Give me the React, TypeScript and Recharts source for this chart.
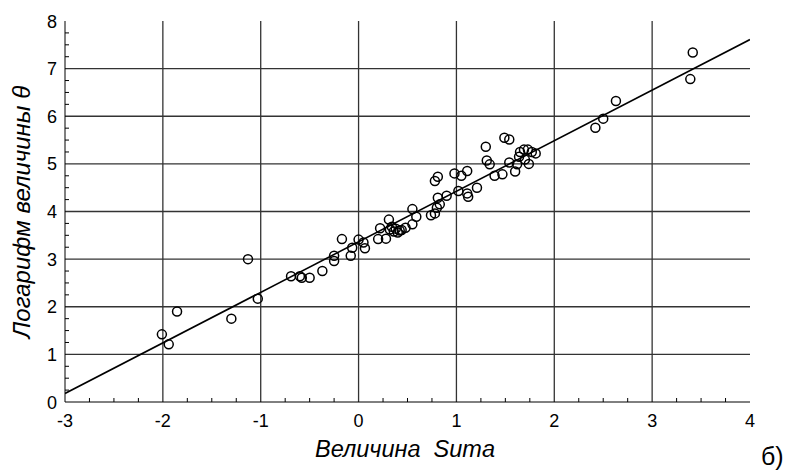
import React from 'react';
import { ScatterChart, Scatter, XAxis, YAxis, ReferenceLine } from 'recharts';

// observed points: Suma vs ln(theta)
const sumaValues = [
  -2.01, -1.94, -1.855, -1.3, -1.13, -1.03, -0.69, -0.6, -0.58, -0.5,
  -0.37, -0.25, -0.25, -0.17, -0.08, -0.065, 0.0, 0.05, 0.065, 0.2,
  0.22, 0.28, 0.31, 0.32, 0.34, 0.36, 0.38, 0.4, 0.42, 0.44,
  0.48, 0.55, 0.55, 0.59, 0.74, 0.78, 0.8, 0.83, 0.81, 0.78,
  0.81, 0.9, 0.98, 1.02, 1.05, 1.11, 1.11, 1.12, 1.21, 1.3,
  1.31, 1.34, 1.39, 1.47, 1.49, 1.54, 1.54, 1.6, 1.62, 1.64,
  1.65, 1.69, 1.73, 1.7, 1.74, 1.77, 1.81, 2.42, 2.5, 2.63,
  3.39, 3.415,
];
const logTheta = [
  1.42, 1.21, 1.9, 1.75, 3.0, 2.17, 2.64, 2.64, 2.61, 2.61,
  2.75, 2.96, 3.07, 3.42, 3.07, 3.24, 3.41, 3.35, 3.23, 3.42,
  3.65, 3.43, 3.83, 3.62, 3.68, 3.58, 3.64, 3.56, 3.6, 3.61,
  3.66, 3.73, 4.05, 3.89, 3.92, 3.96, 4.08, 4.15, 4.29, 4.64,
  4.73, 4.33, 4.8, 4.43, 4.75, 4.85, 4.38, 4.31, 4.5, 5.36,
  5.07, 4.99, 4.75, 4.78, 5.55, 5.51, 5.03, 4.84, 4.99, 5.15,
  5.25, 5.3, 5.3, 5.09, 5.0, 5.25, 5.22, 5.76, 5.95, 6.32,
  6.78, 7.34,
];

// fitted line endpoints
const fitX = [-3, 4];
const fitY = [0.18, 7.61];

const xMajor = [-3, -2, -1, 0, 1, 2, 3, 4];
const yMajor = [0, 1, 2, 3, 4, 5, 6, 7, 8];

const quarters = (lo: number, hi: number) => {
  const out: number[] = [];
  for (let v = lo; v <= hi + 1e-9; v += 0.25) out.push(Math.round(v * 100) / 100);
  return out;
};
const xTicks = quarters(-3, 4);
const yTicks = quarters(0, 8);

const points = sumaValues.map((x, i) => ({ x, y: logTheta[i] }));
const fitLine = fitX.map((x, i) => ({ x, y: fitY[i] }));

const FONT = '"Liberation Sans", Arial, sans-serif';
const GRID = '#333';
const isMajor = (v: number) => Number.isInteger(v);

const BottomTick = ({ x, y, payload }: any) => (
  <g>
    {!isMajor(payload.value) && <line x1={x} y1={y} x2={x} y2={y - 4} stroke="#000" />}
    {isMajor(payload.value) && (
      <text x={x} y={y + 25} textAnchor="middle" fontSize={18} fontFamily={FONT} fill="#000">
        {payload.value}
      </text>
    )}
  </g>
);

const TopTick = ({ x, y, payload }: any) =>
  isMajor(payload.value) ? <g /> : <line x1={x} y1={y} x2={x} y2={y + 4} stroke="#000" />;

const LeftTick = ({ x, y, payload }: any) => (
  <g>
    {!isMajor(payload.value) && <line x1={x} y1={y} x2={x + 4} y2={y} stroke="#000" />}
    {isMajor(payload.value) && (
      <text x={x - 8} y={y + 6.5} textAnchor="end" fontSize={18} fontFamily={FONT} fill="#000">
        {payload.value}
      </text>
    )}
  </g>
);

const RightTick = ({ x, y, payload }: any) =>
  isMajor(payload.value) ? <g /> : <line x1={x} y1={y} x2={x - 4} y2={y} stroke="#000" />;

const Ring = ({ cx, cy }: any) => (
  <circle cx={cx} cy={cy} r={4.5} fill="none" stroke="#000" strokeWidth={1.5} />
);

export default function App() {
  return (
    <div style={{ position: 'absolute', left: 0, top: 0, width: 788, height: 472, background: '#fff', fontFamily: FONT }}>
      <ScatterChart width={788} height={472} margin={{ top: 21, right: 38, bottom: 0, left: 0 }}>
        <XAxis
          xAxisId="b" dataKey="x" type="number" domain={[-3, 4]} ticks={xTicks} interval={0}
          height={70} tickSize={0} tickMargin={0} tickLine={false} tick={<BottomTick />}
          axisLine={{ stroke: '#000' }} allowDataOverflow
        />
        <XAxis
          xAxisId="t" orientation="top" dataKey="x" type="number" domain={[-3, 4]} ticks={xTicks} interval={0}
          height={0} tickSize={0} tickMargin={0} tickLine={false} tick={<TopTick />}
          axisLine={{ stroke: '#000' }} allowDataOverflow
        />
        <YAxis
          yAxisId="l" dataKey="y" type="number" domain={[0, 8]} ticks={yTicks} interval={0}
          width={65} tickSize={0} tickMargin={0} tickLine={false} tick={<LeftTick />}
          axisLine={{ stroke: '#000' }} allowDataOverflow
        />
        <YAxis
          yAxisId="r" orientation="right" dataKey="y" type="number" domain={[0, 8]} ticks={yTicks} interval={0}
          width={0} tickSize={0} tickMargin={0} tickLine={false} tick={<RightTick />}
          axisLine={{ stroke: '#000' }} allowDataOverflow
        />
        {xMajor.slice(1, -1).map((v) => (
          <ReferenceLine key={'gx' + v} xAxisId="b" yAxisId="l" x={v} stroke={GRID} strokeWidth={1.3} />
        ))}
        {yMajor.slice(1, -1).map((v) => (
          <ReferenceLine key={'gy' + v} xAxisId="b" yAxisId="l" y={v} stroke={GRID} strokeWidth={1.3} />
        ))}
        <Scatter
          xAxisId="t" yAxisId="r" data={fitLine} line={{ stroke: '#000', strokeWidth: 1.6 }}
          shape={() => <g />} isAnimationActive={false} legendType="none"
        />
        <Scatter xAxisId="b" yAxisId="l" data={points} shape={<Ring />} isAnimationActive={false} />
      </ScatterChart>
      <div
        style={{
          position: 'absolute', left: 22, top: 212, transform: 'translate(-50%, -50%) rotate(-90deg)',
          whiteSpace: 'nowrap', fontSize: 24, fontStyle: 'italic', lineHeight: 1,
        }}
      >
        Логарифм величины θ
      </div>
      <div
        style={{
          position: 'absolute', left: 405, top: 438, transform: 'translateX(-50%)',
          whiteSpace: 'pre', fontSize: 23.5, fontStyle: 'italic', lineHeight: 1,
        }}
      >
        {'Величина  Suma'}
      </div>
      <div style={{ position: 'absolute', left: 761, top: 444, fontSize: 25, lineHeight: 1, whiteSpace: 'nowrap' }}>
        б)
      </div>
    </div>
  );
}
